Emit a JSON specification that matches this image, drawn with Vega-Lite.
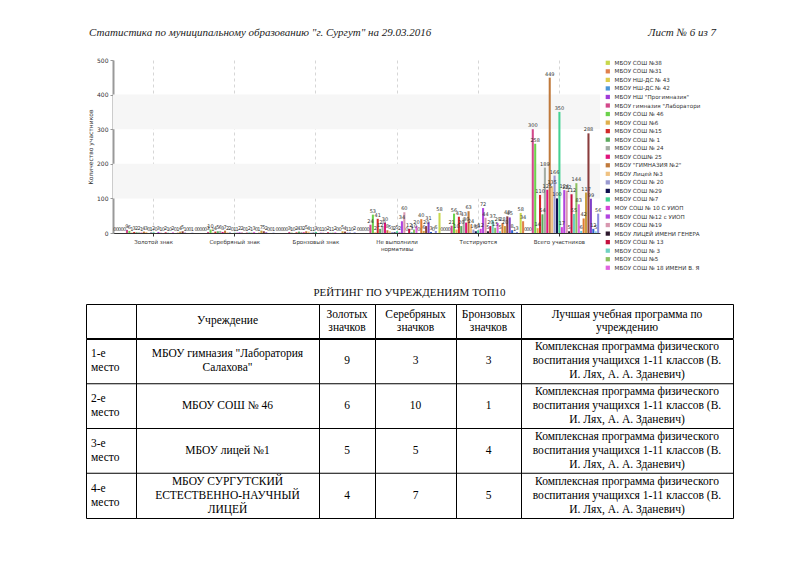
{
  "$schema": "https://vega.github.io/schema/vega-lite/v6.json",
  "background": "white",
  "padding": {"left": 85, "top": 23, "right": 5, "bottom": 5},
  "spacing": 14,
  "config": {
    "view": {"stroke": null},
    "font": "DejaVu Sans"
  },
  "resolve": {"scale": {"color": "independent"}, "legend": {"color": "independent"}},
  "datasets": {
    "schools": [
      {"school": "МБОУ СОШ №38", "gold": 0, "silver": 0, "bronze": 0, "fail": 0, "test": 58, "total": 58},
      {"school": "МБОУ СОШ №31", "gold": 0, "silver": 0, "bronze": 0, "fail": 0, "test": 0, "total": 34},
      {"school": "МБОУ НШ-ДС № 43", "gold": 0, "silver": 0, "bronze": 0, "fail": 0, "test": 0, "total": 0},
      {"school": "МБОУ НШ-ДС № 42", "gold": 0, "silver": 0, "bronze": 0, "fail": 0, "test": 0, "total": 0},
      {"school": "МБОУ НШ \"Прогимназия\"", "gold": 0, "silver": 0, "bronze": 0, "fail": 0, "test": 0, "total": 0},
      {"school": "МБОУ гимназия \"Лаборатория Салахова\"", "gold": 9, "silver": 3, "bronze": 3, "fail": 24, "test": 21, "total": 300},
      {"school": "МБОУ СОШ № 46", "gold": 6, "silver": 10, "bronze": 1, "fail": 53, "test": 56, "total": 258},
      {"school": "МБОУ СОШ №6", "gold": 1, "silver": 1, "bronze": 0, "fail": 2, "test": 10, "total": 14},
      {"school": "МБОУ СОШ №15", "gold": 3, "silver": 4, "bronze": 2, "fail": 41, "test": 47, "total": 110},
      {"school": "МБОУ СОШ № 1", "gold": 2, "silver": 5, "bronze": 4, "fail": 12, "test": 20, "total": 54},
      {"school": "МБОУ СОШ № 24", "gold": 2, "silver": 6, "bronze": 3, "fail": 20, "test": 43, "total": 189},
      {"school": "МБОУ СОШ№ 25", "gold": 1, "silver": 3, "bronze": 2, "fail": 30, "test": 30, "total": 125},
      {"school": "МБОУ \"ГИМНАЗИЯ №2\"", "gold": 4, "silver": 7, "bronze": 5, "fail": 8, "test": 63, "total": 449},
      {"school": "МБОУ Лицей №3", "gold": 3, "silver": 2, "bronze": 4, "fail": 5, "test": 24, "total": 135},
      {"school": "МБОУ СОШ № 20", "gold": 0, "silver": 2, "bronze": 1, "fail": 3, "test": 10, "total": 166},
      {"school": "МБОУ СОШ №29", "gold": 1, "silver": 0, "bronze": 1, "fail": 2, "test": 5, "total": 100},
      {"school": "МБОУ СОШ №7", "gold": 2, "silver": 1, "bronze": 3, "fail": 5, "test": 8, "total": 350},
      {"school": "МОУ СОШ № 10 С УИОП", "gold": 0, "silver": 1, "bronze": 0, "fail": 2, "test": 12, "total": 17},
      {"school": "МБОУ СОШ №12 с УИОП", "gold": 3, "silver": 2, "bronze": 1, "fail": 34, "test": 72, "total": 124},
      {"school": "МБОУ СОШ №19", "gold": 1, "silver": 2, "bronze": 1, "fail": 60, "test": 44, "total": 122},
      {"school": "МБОУ ЛИЦЕЙ ИМЕНИ ГЕНЕРА", "gold": 0, "silver": 0, "bronze": 0, "fail": 0, "test": 5, "total": 5},
      {"school": "МБОУ СОШ № 13", "gold": 2, "silver": 1, "bronze": 2, "fail": 12, "test": 20, "total": 112},
      {"school": "МБОУ СОШ № 3", "gold": 1, "silver": 2, "bronze": 1, "fail": 3, "test": 37, "total": 55},
      {"school": "МБОУ СОШ №5", "gold": 0, "silver": 1, "bronze": 1, "fail": 10, "test": 15, "total": 144},
      {"school": "МБОУ СОШ № 18 ИМЕНИ В. Я", "gold": 2, "silver": 3, "bronze": 2, "fail": 20, "test": 29, "total": 83},
      {"school": "МБОУ СОШ № 4", "gold": 0, "silver": 0, "bronze": 0, "fail": 0, "test": 5, "total": 6},
      {"school": "МБОУ СОШ № 8", "gold": 1, "silver": 1, "bronze": 0, "fail": 40, "test": 28, "total": 42},
      {"school": "МБОУ СУРГУТСКИЙ ЕСТЕСТВЕННО-НАУЧНЫЙ ЛИЦЕЙ", "gold": 4, "silver": 7, "bronze": 5, "fail": 6, "test": 20, "total": 117},
      {"school": "МБОУ лицей №1", "gold": 5, "silver": 5, "bronze": 4, "fail": 20, "test": 48, "total": 288},
      {"school": "МБОУ СОШ № 9", "gold": 1, "silver": 2, "bronze": 1, "fail": 31, "test": 45, "total": 99},
      {"school": "МБОУ СОШ № 26", "gold": 0, "silver": 0, "bronze": 1, "fail": 3, "test": 8, "total": 12},
      {"school": "МБОУ СОШ № 27", "gold": 0, "silver": 0, "bronze": 0, "fail": 0, "test": 1, "total": 5},
      {"school": "МБОУ СОШ № 32", "gold": 1, "silver": 1, "bronze": 2, "fail": 6, "test": 3, "total": 56}
    ],
    "table": [
      {"place": "1-е\nместо", "inst": "МБОУ гимназия \"Лаборатория\nСалахова\"", "g": 9, "s": 3, "b": 3, "prog": "Комплексная программа физического\nвоспитания учащихся 1-11 классов (В.\nИ. Лях, А. А. Зданевич)"},
      {"place": "2-е\nместо", "inst": "МБОУ СОШ № 46", "g": 6, "s": 10, "b": 1, "prog": "Комплексная программа физического\nвоспитания учащихся 1-11 классов (В.\nИ. Лях, А. А. Зданевич)"},
      {"place": "3-е\nместо", "inst": "МБОУ лицей №1", "g": 5, "s": 5, "b": 4, "prog": "Комплексная программа физического\nвоспитания учащихся 1-11 классов (В.\nИ. Лях, А. А. Зданевич)"},
      {"place": "4-е\nместо", "inst": "МБОУ СУРГУТСКИЙ\nЕСТЕСТВЕННО-НАУЧНЫЙ\nЛИЦЕЙ", "g": 4, "s": 7, "b": 5, "prog": "Комплексная программа физического\nвоспитания учащихся 1-11 классов (В.\nИ. Лях, А. А. Зданевич)"}
    ]
  },
  "vconcat": [
    {
      "width": 633,
      "height": 20,
      "data": {"values": [
        {"part": "left", "txt": "Статистика по муниципальному образованию \"г. Сургут\" на 29.03.2016"},
        {"part": "right", "txt": "Лист № 6 из 7"}
      ]},
      "layer": [
        {
          "transform": [{"filter": "datum.part == 'left'"}],
          "mark": {"type": "text", "align": "left", "font": "Liberation Serif", "fontStyle": "italic", "fontSize": 11, "color": "#222"},
          "encoding": {
            "x": {"field": "part", "type": "nominal", "scale": {"type": "point", "domain": ["left", "right"], "padding": 0.0048}, "axis": null},
            "text": {"field": "txt"}
          }
        },
        {
          "transform": [{"filter": "datum.part == 'right'"}],
          "mark": {"type": "text", "align": "right", "font": "Liberation Serif", "fontStyle": "italic", "fontSize": 11, "color": "#222"},
          "encoding": {
            "x": {"field": "part", "type": "nominal", "scale": {"type": "point", "domain": ["left", "right"], "padding": 0.0048}, "axis": null},
            "text": {"field": "txt"}
          }
        }
      ]
    },
    {
      "spacing": 0,
      "resolve": {"scale": {"color": "independent"}, "legend": {"color": "independent"}},
      "hconcat": [
        {"width": 1, "height": 173, "data": {"values": []}, "mark": "point"},
        {
          "width": 487,
          "height": 173,
          "layer": [
            {
              "data": {"values": [{}]},
              "mark": {"type": "rect", "color": "#f6f6f6"},
              "encoding": {
                "y": {"datum": 100, "type": "quantitative", "scale": {"domain": [0, 500], "nice": false},
                  "axis": {
                    "title": "Количество участников", "titleFontSize": 6, "titleFontWeight": "normal", "titleColor": "#333", "titlePadding": 4,
                    "labelFontSize": 6, "labelColor": "#333", "labelPadding": 2, "labelOverlap": false,
                    "values": [0, 100, 200, 300, 400, 500], "tickCount": 6,
                    "gridDash": [3, 3], "gridColor": "#d6d6d6",
                    "domainColor": "#999", "domainWidth": 2, "tickColor": "#999", "tickSize": 3,
                    "minExtent": 16, "maxExtent": 16
                  }},
                "y2": {"datum": 200}
              }
            },
            {
              "data": {"values": [{}]},
              "mark": {"type": "rect", "color": "#f6f6f6"},
              "encoding": {
                "y": {"datum": 300, "type": "quantitative", "scale": {"domain": [0, 500], "nice": false},
                  "axis": {
                    "title": "Количество участников", "titleFontSize": 6, "titleFontWeight": "normal", "titleColor": "#333", "titlePadding": 4,
                    "labelFontSize": 6, "labelColor": "#333", "labelPadding": 2, "labelOverlap": false,
                    "values": [0, 100, 200, 300, 400, 500], "tickCount": 6,
                    "gridDash": [3, 3], "gridColor": "#d6d6d6",
                    "domainColor": "#999", "domainWidth": 2, "tickColor": "#999", "tickSize": 3,
                    "minExtent": 16, "maxExtent": 16
                  }},
                "y2": {"datum": 400}
              }
            },
            {
              "data": {"name": "schools"},
              "transform": [{"fold": ["gold", "silver", "bronze", "fail", "test", "total"], "as": ["cat", "v"]}],
              "encoding": {
                "x": {
                  "field": "cat", "type": "nominal",
                  "sort": ["gold", "silver", "bronze", "fail", "test", "total"],
                  "scale": {"paddingInner": 0.02, "paddingOuter": 0.01},
                  "axis": {
                    "title": null,
                    "labelExpr": "{'gold':'Золотой знак','silver':'Серебряный знак','bronze':'Бронзовый знак','fail':['Не выполнили','нормативы'],'test':'Тестируются','total':'Всего участников'}[datum.value]",
                    "labelAngle": 0, "labelFontSize": 5.5, "labelColor": "#333", "labelPadding": 3,
                    "grid": true, "gridDash": [3, 3], "gridColor": "#d6d6d6", "bandPosition": 0.5,
                    "domainColor": "#333", "tickColor": "#333", "tickSize": 3
                  }
                },
                "xOffset": {"field": "school", "type": "nominal", "sort": null, "scale": {"paddingInner": 0.15}},
                "y": {
                  "field": "v", "type": "quantitative",
                  "scale": {"domain": [0, 500], "nice": false},
                  "axis": {
                    "title": "Количество участников", "titleFontSize": 6, "titleFontWeight": "normal", "titleColor": "#333", "titlePadding": 4,
                    "labelFontSize": 6, "labelColor": "#333", "labelPadding": 2, "labelOverlap": false,
                    "values": [0, 100, 200, 300, 400, 500], "tickCount": 6,
                    "gridDash": [3, 3], "gridColor": "#d6d6d6",
                    "domainColor": "#999", "domainWidth": 2, "tickColor": "#999", "tickSize": 3,
                    "minExtent": 16, "maxExtent": 16
                  }
                }
              },
              "layer": [
                {
                  "mark": {"type": "bar"},
                  "encoding": {
                    "color": {
                      "field": "school", "type": "nominal", "sort": null,
                      "scale": {"range": ["#c8d84c", "#e0804c", "#dccd4c", "#4a96d8", "#a03cd8", "#d2488a", "#6cd24c", "#e0b04c", "#d22a2a", "#5caa5e", "#a4aca4", "#e0147c", "#c07a3c", "#f0c282", "#9a9ad0", "#10104e", "#44d292", "#d444d8", "#b044e0", "#d898b0", "#2c182c", "#c4103e", "#70d2c2", "#8cc060", "#e064e0", "#60c8e0", "#e07a30", "#c8a040", "#8a3c3c", "#8040c8", "#2a62d2", "#86d2e2", "#8c8ce0"]},
                      "legend": {
                        "title": null, "orient": "right", "offset": 5, "padding": 0,
                        "values": ["МБОУ СОШ №38", "МБОУ СОШ №31", "МБОУ НШ-ДС № 43", "МБОУ НШ-ДС № 42", "МБОУ НШ \"Прогимназия\"", "МБОУ гимназия \"Лаборатория Салахова\"", "МБОУ СОШ № 46", "МБОУ СОШ №6", "МБОУ СОШ №15", "МБОУ СОШ № 1", "МБОУ СОШ № 24", "МБОУ СОШ№ 25", "МБОУ \"ГИМНАЗИЯ №2\"", "МБОУ Лицей №3", "МБОУ СОШ № 20", "МБОУ СОШ №29", "МБОУ СОШ №7", "МОУ СОШ № 10 С УИОП", "МБОУ СОШ №12 с УИОП", "МБОУ СОШ №19", "МБОУ ЛИЦЕЙ ИМЕНИ ГЕНЕРА", "МБОУ СОШ № 13", "МБОУ СОШ № 3", "МБОУ СОШ №5", "МБОУ СОШ № 18 ИМЕНИ В. Я"],
                        "labelExpr": "slice(datum.label, 0, 25)",
                        "symbolType": "square", "symbolSize": 18, "symbolStrokeWidth": 0,
                        "labelFontSize": 5.6, "labelColor": "#333", "rowPadding": 1.54, "labelLimit": 140
                      }
                    }
                  }
                },
                {
                  "mark": {"type": "text", "fontSize": 5, "baseline": "bottom", "dy": -1, "color": "#333"},
                  "encoding": {"text": {"field": "v", "type": "quantitative"}}
                }
              ]
            }
          ]
        }
      ]
    },
    {
      "title": {"text": "РЕЙТИНГ ПО УЧРЕЖДЕНИЯМ ТОП10", "font": "Liberation Serif", "fontSize": 11, "fontWeight": "normal", "anchor": "middle", "offset": 6, "color": "#111"},
      "spacing": -1,
      "vconcat": [
        {
          "spacing": 0,
          "bounds": "flush",
          "hconcat": [
            {"width": 50, "height": 34, "view": {"stroke": "#000", "strokeWidth": 1}, "data": {"values": [{"h": ""}]}, "mark": {"type": "text", "font": "Liberation Serif", "fontSize": 11.5, "color": "#000"}, "encoding": {"text": {"field": "h"}}},
            {"width": 183, "height": 34, "view": {"stroke": "#000", "strokeWidth": 1}, "data": {"values": [{"h": "Учреждение"}]}, "mark": {"type": "text", "font": "Liberation Serif", "fontSize": 11.5, "color": "#000"}, "encoding": {"text": {"field": "h"}}},
            {"width": 56, "height": 34, "view": {"stroke": "#000", "strokeWidth": 1}, "data": {"values": [{"h": "Золотых\nзначков"}]}, "mark": {"type": "text", "font": "Liberation Serif", "fontSize": 11.5, "lineBreak": "\n", "lineHeight": 13, "dy": -6.5, "color": "#000"}, "encoding": {"text": {"field": "h"}}},
            {"width": 81, "height": 34, "view": {"stroke": "#000", "strokeWidth": 1}, "data": {"values": [{"h": "Серебряных\nзначков"}]}, "mark": {"type": "text", "font": "Liberation Serif", "fontSize": 11.5, "lineBreak": "\n", "lineHeight": 13, "dy": -6.5, "color": "#000"}, "encoding": {"text": {"field": "h"}}},
            {"width": 65, "height": 34, "view": {"stroke": "#000", "strokeWidth": 1}, "data": {"values": [{"h": "Бронзовых\nзначков"}]}, "mark": {"type": "text", "font": "Liberation Serif", "fontSize": 11.5, "lineBreak": "\n", "lineHeight": 13, "dy": -6.5, "color": "#000"}, "encoding": {"text": {"field": "h"}}},
            {"width": 212, "height": 34, "view": {"stroke": "#000", "strokeWidth": 1}, "data": {"values": [{"h": "Лучшая учебная программа по\nучреждению"}]}, "mark": {"type": "text", "font": "Liberation Serif", "fontSize": 11.5, "lineBreak": "\n", "lineHeight": 13, "dy": -6.5, "color": "#000"}, "encoding": {"text": {"field": "h"}}}
          ]
        },
        {
          "spacing": 0,
          "bounds": "flush",
          "hconcat": [
            {
              "width": 50, "height": 179, "view": {"stroke": "#000", "strokeWidth": 1}, "data": {"name": "table"},
              "encoding": {"y": {"field": "place", "type": "nominal", "sort": ["1-е\nместо", "2-е\nместо", "3-е\nместо", "4-е\nместо"], "scale": {"type": "band", "paddingInner": 0, "paddingOuter": 0}, "axis": null}},
              "layer": [
                {"mark": {"type": "rule", "color": "#000", "strokeWidth": 1}, "encoding": {"y": {"field": "place", "type": "nominal", "sort": ["1-е\nместо", "2-е\nместо", "3-е\nместо", "4-е\nместо"], "bandPosition": 0, "scale": {"type": "band", "paddingInner": 0, "paddingOuter": 0}, "axis": null}}},
                {"mark": {"type": "text", "font": "Liberation Serif", "fontSize": 11.5, "lineBreak": "\n", "lineHeight": 14, "dy": -7, "color": "#000", "align": "left", "dx": -20}, "encoding": {"text": {"field": "place"}}}
              ]
            },
            {
              "width": 183, "height": 179, "view": {"stroke": "#000", "strokeWidth": 1}, "data": {"name": "table"},
              "encoding": {"y": {"field": "place", "type": "nominal", "sort": ["1-е\nместо", "2-е\nместо", "3-е\nместо", "4-е\nместо"], "scale": {"type": "band", "paddingInner": 0, "paddingOuter": 0}, "axis": null}},
              "layer": [
                {"mark": {"type": "rule", "color": "#000", "strokeWidth": 1}, "encoding": {"y": {"field": "place", "type": "nominal", "sort": ["1-е\nместо", "2-е\nместо", "3-е\nместо", "4-е\nместо"], "bandPosition": 0, "scale": {"type": "band", "paddingInner": 0, "paddingOuter": 0}, "axis": null}}},
                {"transform": [{"filter": "length(split(datum.inst, '\\n')) == 1"}], "mark": {"type": "text", "font": "Liberation Serif", "fontSize": 11.5, "color": "#000"}, "encoding": {"text": {"field": "inst"}}},
                {"transform": [{"filter": "length(split(datum.inst, '\\n')) == 2"}], "mark": {"type": "text", "font": "Liberation Serif", "fontSize": 11.5, "lineBreak": "\n", "lineHeight": 14, "dy": -7, "color": "#000"}, "encoding": {"text": {"field": "inst"}}},
                {"transform": [{"filter": "length(split(datum.inst, '\\n')) == 3"}], "mark": {"type": "text", "font": "Liberation Serif", "fontSize": 11.5, "lineBreak": "\n", "lineHeight": 14, "dy": -14, "color": "#000"}, "encoding": {"text": {"field": "inst"}}}
              ]
            },
            {
              "width": 56, "height": 179, "view": {"stroke": "#000", "strokeWidth": 1}, "data": {"name": "table"},
              "encoding": {"y": {"field": "place", "type": "nominal", "sort": ["1-е\nместо", "2-е\nместо", "3-е\nместо", "4-е\nместо"], "scale": {"type": "band", "paddingInner": 0, "paddingOuter": 0}, "axis": null}},
              "layer": [
                {"mark": {"type": "rule", "color": "#000", "strokeWidth": 1}, "encoding": {"y": {"field": "place", "type": "nominal", "sort": ["1-е\nместо", "2-е\nместо", "3-е\nместо", "4-е\nместо"], "bandPosition": 0, "scale": {"type": "band", "paddingInner": 0, "paddingOuter": 0}, "axis": null}}},
                {"mark": {"type": "text", "font": "Liberation Serif", "fontSize": 11.5, "color": "#000"}, "encoding": {"text": {"field": "g"}}}
              ]
            },
            {
              "width": 81, "height": 179, "view": {"stroke": "#000", "strokeWidth": 1}, "data": {"name": "table"},
              "encoding": {"y": {"field": "place", "type": "nominal", "sort": ["1-е\nместо", "2-е\nместо", "3-е\nместо", "4-е\nместо"], "scale": {"type": "band", "paddingInner": 0, "paddingOuter": 0}, "axis": null}},
              "layer": [
                {"mark": {"type": "rule", "color": "#000", "strokeWidth": 1}, "encoding": {"y": {"field": "place", "type": "nominal", "sort": ["1-е\nместо", "2-е\nместо", "3-е\nместо", "4-е\nместо"], "bandPosition": 0, "scale": {"type": "band", "paddingInner": 0, "paddingOuter": 0}, "axis": null}}},
                {"mark": {"type": "text", "font": "Liberation Serif", "fontSize": 11.5, "color": "#000"}, "encoding": {"text": {"field": "s"}}}
              ]
            },
            {
              "width": 65, "height": 179, "view": {"stroke": "#000", "strokeWidth": 1}, "data": {"name": "table"},
              "encoding": {"y": {"field": "place", "type": "nominal", "sort": ["1-е\nместо", "2-е\nместо", "3-е\nместо", "4-е\nместо"], "scale": {"type": "band", "paddingInner": 0, "paddingOuter": 0}, "axis": null}},
              "layer": [
                {"mark": {"type": "rule", "color": "#000", "strokeWidth": 1}, "encoding": {"y": {"field": "place", "type": "nominal", "sort": ["1-е\nместо", "2-е\nместо", "3-е\nместо", "4-е\nместо"], "bandPosition": 0, "scale": {"type": "band", "paddingInner": 0, "paddingOuter": 0}, "axis": null}}},
                {"mark": {"type": "text", "font": "Liberation Serif", "fontSize": 11.5, "color": "#000"}, "encoding": {"text": {"field": "b"}}}
              ]
            },
            {
              "width": 212, "height": 179, "view": {"stroke": "#000", "strokeWidth": 1}, "data": {"name": "table"},
              "encoding": {"y": {"field": "place", "type": "nominal", "sort": ["1-е\nместо", "2-е\nместо", "3-е\nместо", "4-е\nместо"], "scale": {"type": "band", "paddingInner": 0, "paddingOuter": 0}, "axis": null}},
              "layer": [
                {"mark": {"type": "rule", "color": "#000", "strokeWidth": 1}, "encoding": {"y": {"field": "place", "type": "nominal", "sort": ["1-е\nместо", "2-е\nместо", "3-е\nместо", "4-е\nместо"], "bandPosition": 0, "scale": {"type": "band", "paddingInner": 0, "paddingOuter": 0}, "axis": null}}},
                {"mark": {"type": "text", "font": "Liberation Serif", "fontSize": 11.5, "lineBreak": "\n", "lineHeight": 14, "dy": -14, "color": "#000"}, "encoding": {"text": {"field": "prog"}}}
              ]
            }
          ]
        }
      ]
    }
  ]
}
